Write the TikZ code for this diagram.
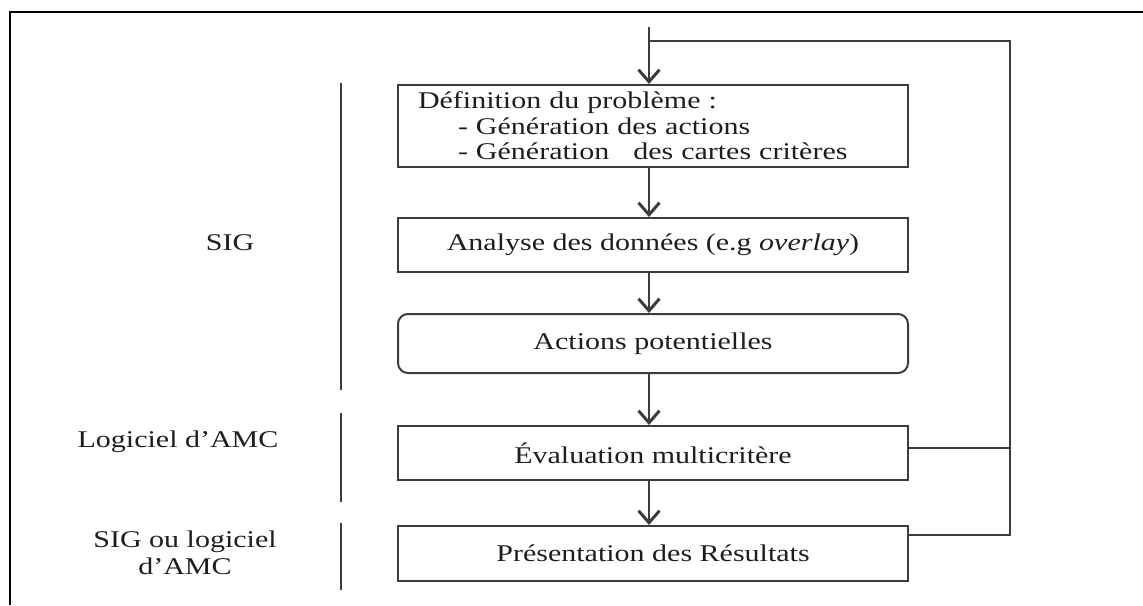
\documentclass[tikz,border=0pt]{standalone}
\usepackage{fontspec}
\setmainfont{Liberation Serif}[FakeStretch=1.25]
\usetikzlibrary{arrows.meta,calc}
\definecolor{linegray}{HTML}{3C3C3C}
\definecolor{textdark}{HTML}{1E1E1E}
\begin{document}
\begin{tikzpicture}[x=1pt,y=-1pt,
  box/.style={draw=linegray,line width=2pt,minimum width=510pt,inner sep=0pt,
    text=textdark,font=\fontsize{24}{25.5}\selectfont,anchor=north},
  arr/.style={draw=linegray,line width=2pt,
    -{Straight Barb[length=12pt,width=21pt,line width=3pt]}},
  plainline/.style={draw=linegray,line width=2pt},
  lab/.style={text=textdark,font=\fontsize{24}{27}\selectfont,align=center,inner sep=0pt}
]
\useasboundingbox (0,0) rectangle (1143,605);
\draw[black,line width=2pt] (10,605) -- (10,12) -- (1143,12);

\node[box,minimum height=82pt,align=left,text width=470pt] (b1) at (653,84)
  {Définition du problème :\\
   \hspace*{40pt}- Génération des actions\\
   \hspace*{40pt}- Génération \ \ des cartes critères};
\node[box,minimum height=54pt] (b2) at (653,217) {Analyse des données (e.g \textit{overlay})};
\node[box,minimum height=59pt,rounded corners=10pt] (b3) at (653,313) {Actions potentielles};
\node[box,minimum height=54pt] (b4) at (653,425) {Évaluation multicritère};
\node[box,minimum height=55pt] (b5) at (653,525) {Présentation des Résultats};

\coordinate (top) at (649,27);
\coordinate (loop) at (1010,41);
\coordinate (e4) at ([yshift=5pt]b4.east);
\coordinate (e5) at ([yshift=18.5pt]b5.east);

\draw[arr] (top) -- (b1.north -| top);
\draw[arr] (b1.south -| top) -- (b2.north -| top);
\draw[arr] (b2.south -| top) -- (b3.north -| top);
\draw[arr] (b3.south -| top) -- (b4.north -| top);
\draw[arr] (b4.south -| top) -- (b5.north -| top);

\draw[plainline] (e4) -- (e4 -| loop);
\draw[plainline] (e5) -- (e5 -| loop) -- (loop) -- (loop -| top);

\draw[plainline] (341,83) -- (341,390);
\draw[plainline] (341,413) -- (341,502);
\draw[plainline] (341,523) -- (341,590);

\node[lab] (sig) at (230,243) {SIG};
\node[lab] (amc) at (178,442) {Logiciel d’AMC};
\node[lab] (sigamc) at (185,553) {SIG ou logiciel\\d’AMC};
\end{tikzpicture}
\end{document}
